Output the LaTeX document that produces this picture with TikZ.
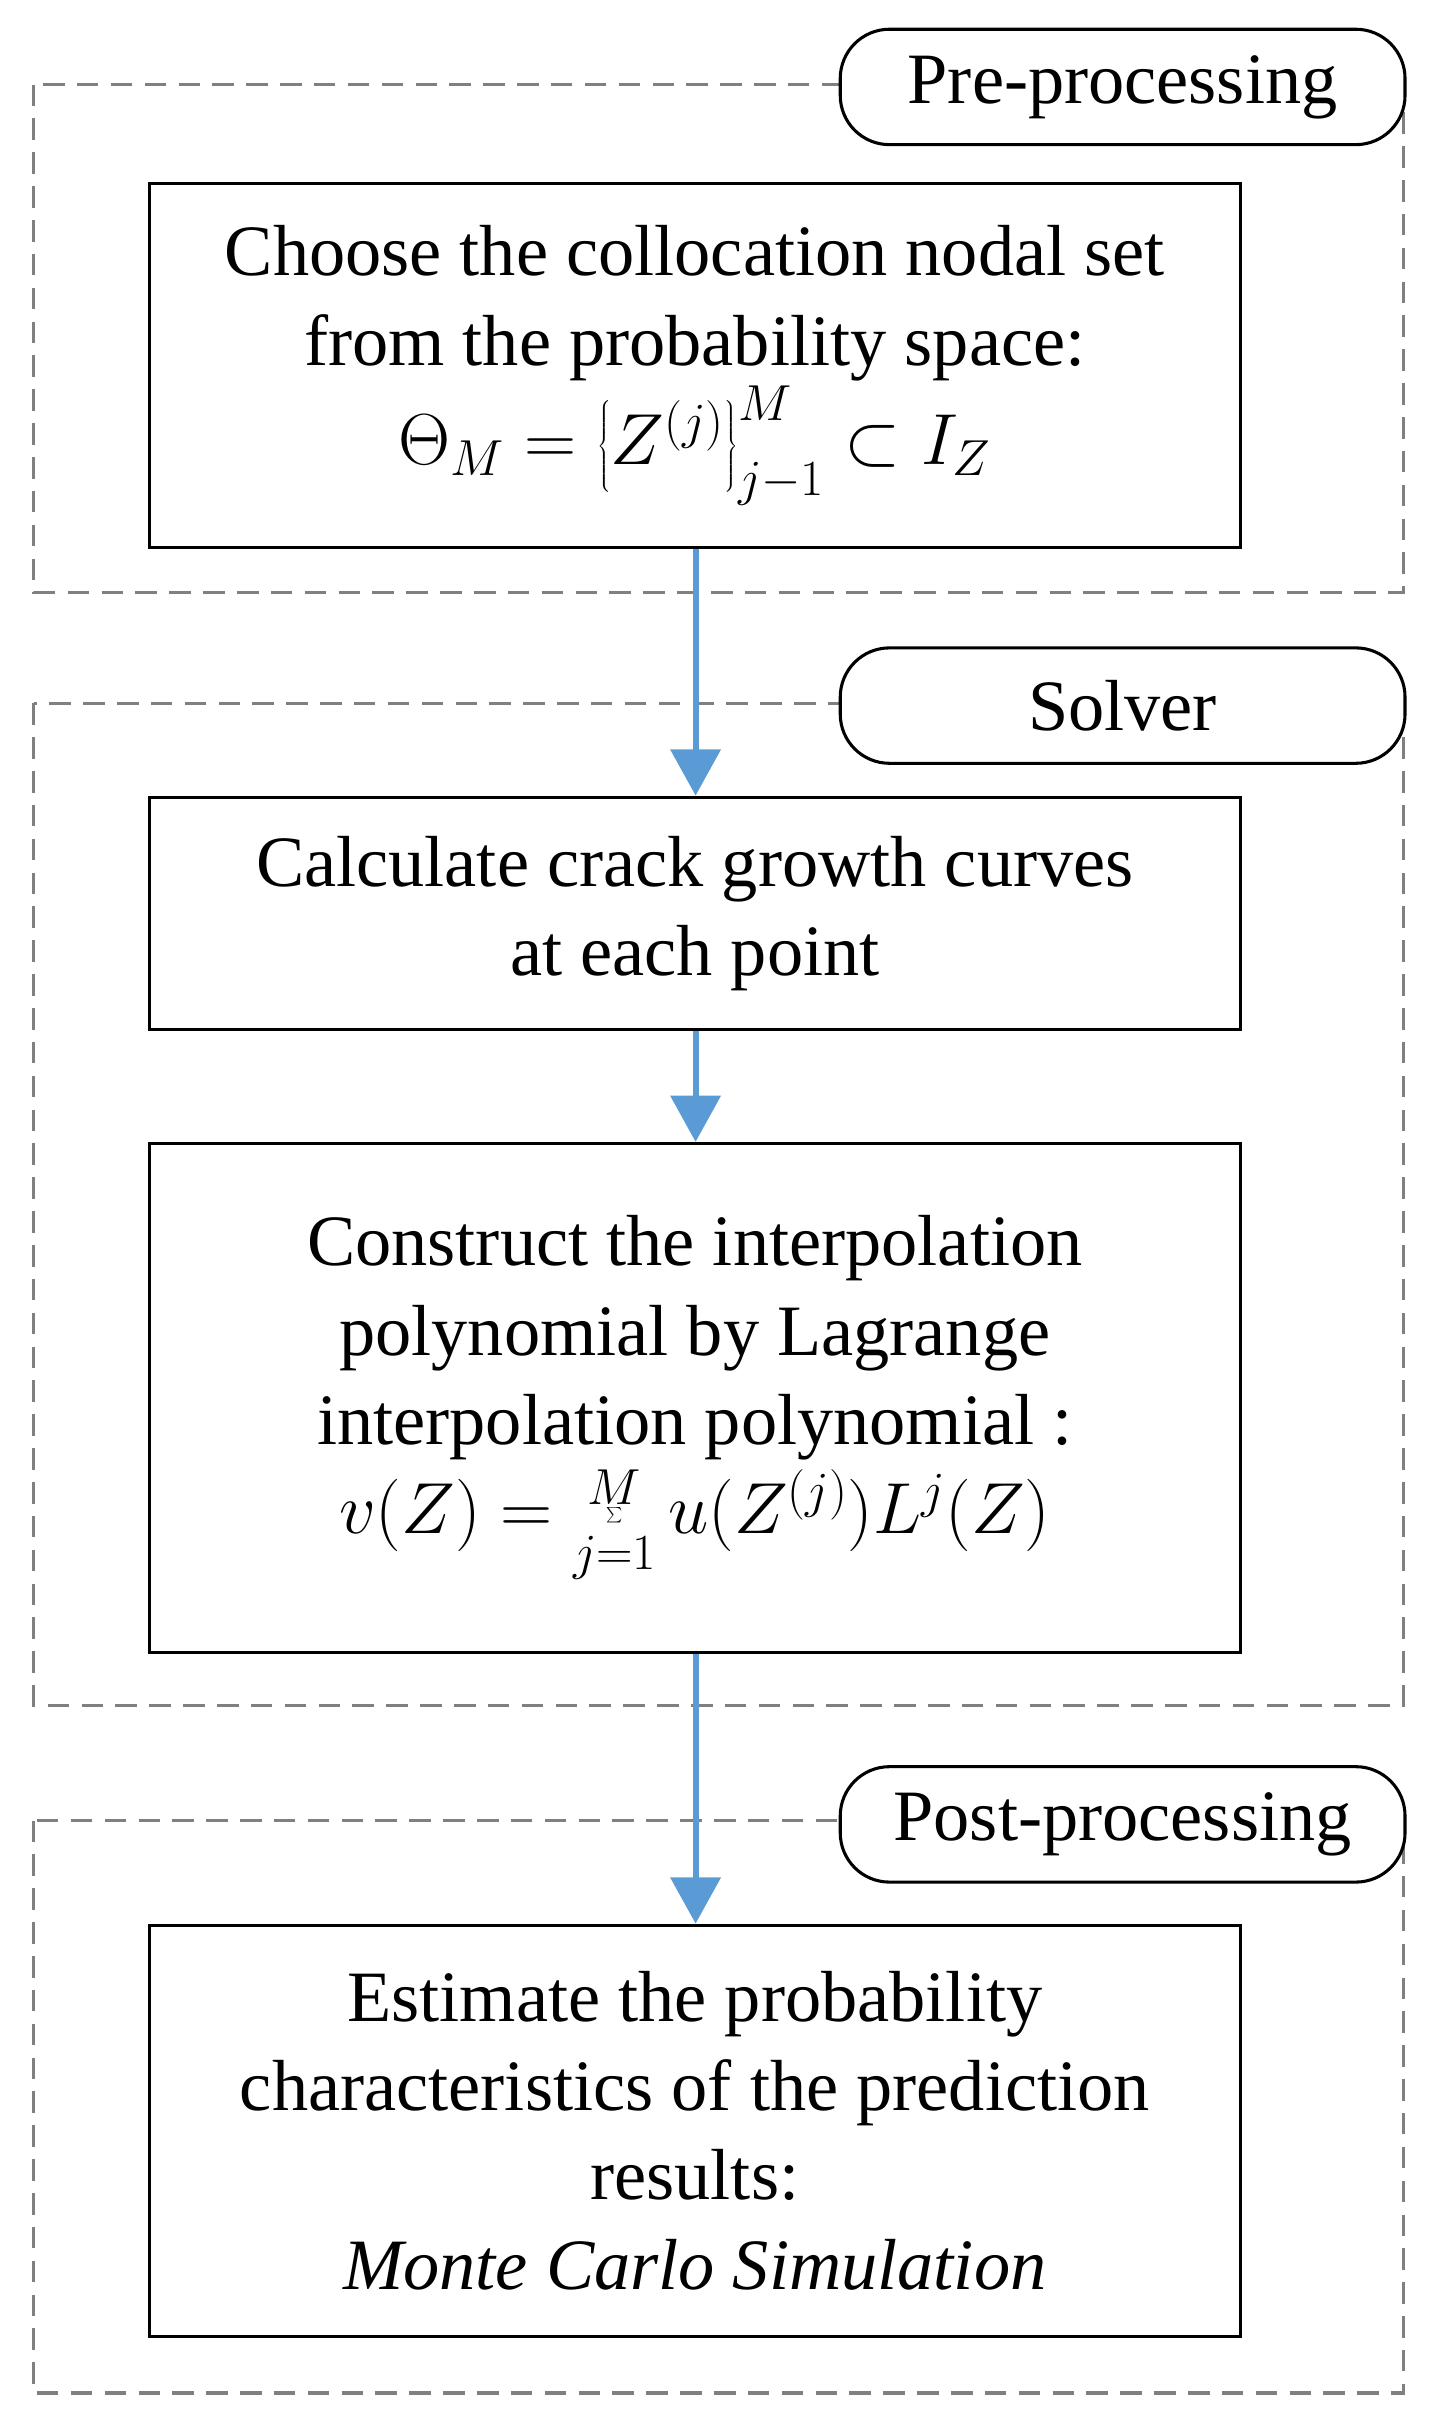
\documentclass[tikz,border=0pt]{standalone}
\usepackage{fix-cm}
\usepackage{fontspec}
\setmainfont{Liberation Serif}
\usetikzlibrary{arrows.meta}
\definecolor{arr}{HTML}{5B9BD5}
\begin{document}
\begin{tikzpicture}[x=1pt,y=-1pt,
  every node/.style={font=\fontsize{47}{58}\selectfont},
  box/.style={draw,line width=2pt,align=center,anchor=north west,inner sep=0pt},
  grp/.style={draw=gray,line width=2pt,dash pattern=on 14pt off 8pt},
  lab/.style={draw,line width=2pt,rounded corners=32pt,fill=white,inner sep=0pt,anchor=north west},
  flow/.style={draw=arr,line width=4pt,-{Triangle[length=30pt,width=32pt]}}]
\useasboundingbox (0,0) rectangle (932,1568);
% dashed groups
\draw[grp] (22,55) rectangle (912,385);
\draw[grp] (22,457) rectangle (912,1108);
\draw[grp] (22,1183) rectangle (912,1555);
\node[lab,minimum width=367pt,minimum height=75pt] (l1) at (545,18) {Pre-processing};
\node[lab,minimum width=367pt,minimum height=75pt] (l2) at (545,420) {Solver};
\node[lab,minimum width=367pt,minimum height=75pt] (l3) at (545,1147) {Post-processing};
% boxes
\node[box,minimum width=709pt,minimum height=237pt] (b1) at (96,118) {Choose the collocation nodal set\\from the probability space:\\[2pt]
$\Theta_M=\left\{Z^{(j)}\right\}_{j-1}^{M}\subset I_Z$};
\node[box,minimum width=709pt,minimum height=151pt] (b2) at (96,517) {Calculate crack growth curves\\at each point};
\node[box,minimum width=709pt,minimum height=331pt] (b3) at (96,742) {Construct the interpolation\\polynomial by Lagrange\\interpolation polynomial :\\[0pt]
$v(Z)=\sum\limits_{j=1}^{M}u(Z^{(j)})L^{j}(Z)$};
\node[box,minimum width=709pt,minimum height=267pt] (b4) at (96,1250) {Estimate the probability\\characteristics of the prediction\\results:\\\textit{Monte Carlo Simulation}};
% arrows
\draw[flow] (b1.south -| 452,0) -- (b2.north -| 452,0);
\draw[flow] (b2.south -| 452,0) -- (b3.north -| 452,0);
\draw[flow] (b3.south -| 452,0) -- (b4.north -| 452,0);
\end{tikzpicture}
\end{document}
